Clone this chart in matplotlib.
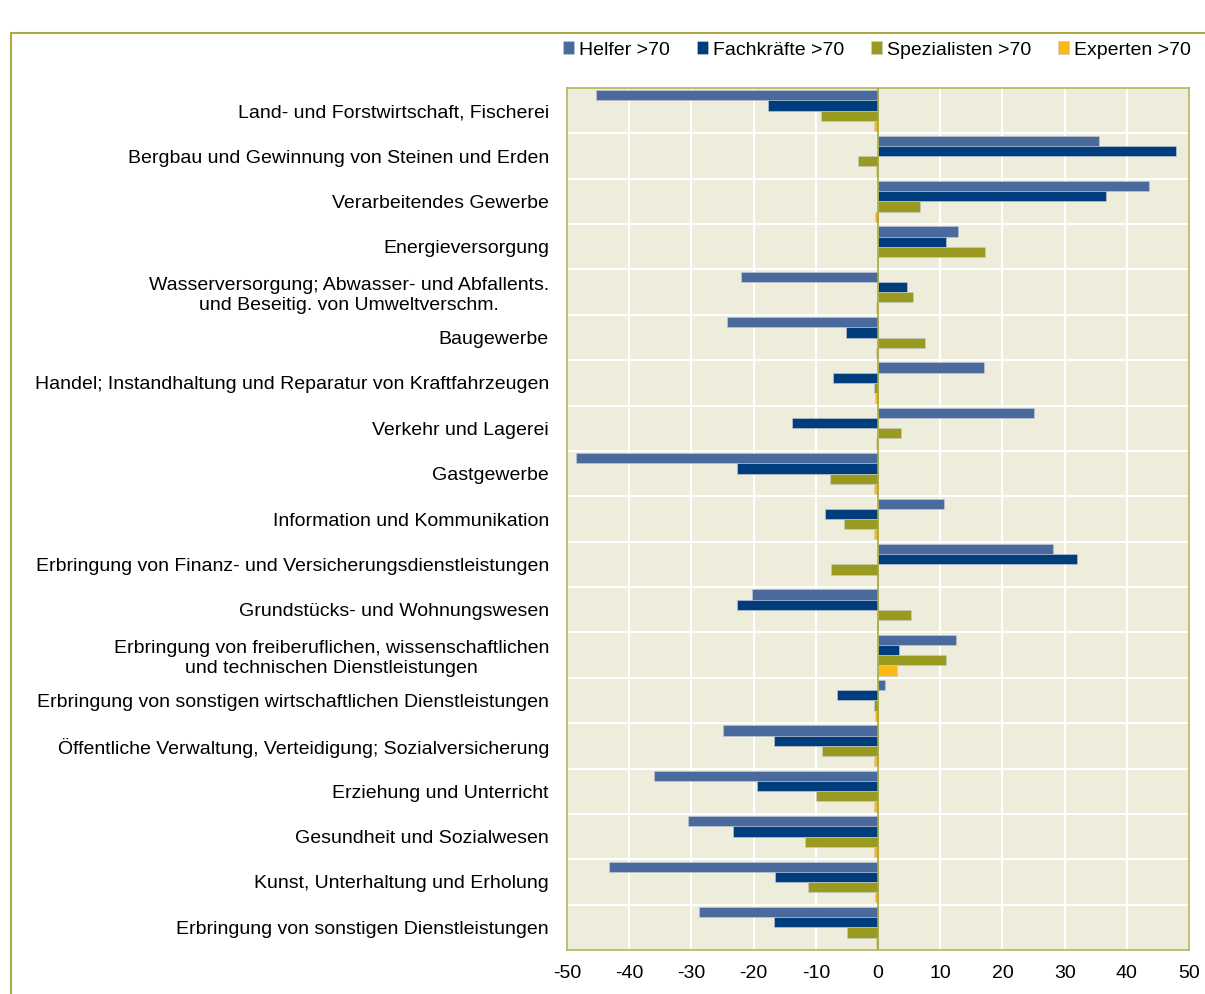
import matplotlib.pyplot as plt
import matplotlib.patches as mpatches
import numpy as np

plt.rcParams['font.family'] = ['Liberation Sans', 'DejaVu Sans']
plt.rcParams['axes.unicode_minus'] = False

# Data
branchen = [
    'Land- und Forstwirtschaft, Fischerei',
    'Bergbau und Gewinnung von Steinen und Erden',
    'Verarbeitendes Gewerbe',
    'Energieversorgung',
    'Wasserversorgung; Abwasser- und Abfallents.\nund Beseitig. von Umweltverschm.',
    'Baugewerbe',
    'Handel; Instandhaltung und Reparatur von Kraftfahrzeugen',
    'Verkehr und Lagerei',
    'Gastgewerbe',
    'Information und Kommunikation',
    'Erbringung von Finanz- und Versicherungsdienstleistungen',
    'Grundstücks- und Wohnungswesen',
    'Erbringung von freiberuflichen, wissenschaftlichen\nund technischen Dienstleistungen',
    'Erbringung von sonstigen wirtschaftlichen Dienstleistungen',
    'Öffentliche Verwaltung, Verteidigung; Sozialversicherung',
    'Erziehung und Unterricht',
    'Gesundheit und Sozialwesen',
    'Kunst, Unterhaltung und Erholung',
    'Erbringung von sonstigen Dienstleistungen',
]

helfer = [-45.4, 35.5, 43.6, 12.8, -22.0, -24.2, 17.0, 25.0, -48.5, 10.6,
          28.1, -20.3, 12.6, 1.1, -24.9, -36.0, -30.6, -43.2, -28.7]
fachkraefte = [-17.7, 47.9, 36.6, 10.9, 4.6, -5.2, -7.2, -13.8, -22.7, -8.5,
               32.0, -22.6, 3.3, -6.6, -16.8, -19.5, -23.3, -16.6, -16.8]
spezialisten = [-9.1, -3.2, 6.7, 17.2, 5.7, 7.5, -0.7, 3.7, -7.7, -5.4,
                -7.5, 5.3, 10.9, -0.7, -9.0, -10.0, -11.7, -11.3, -5.0]
experten = [-0.6, -0.4, -0.5, 0.0, -0.4, -0.4, -0.5, -0.4, -0.6, -0.6,
            -0.2, -0.2, 3.0, -0.5, -0.6, -0.6, -0.6, -0.5, -0.4]

serien = ['Helfer >70', 'Fachkräfte >70', 'Spezialisten >70', 'Experten >70']
farben = ['#4A6A9E', '#003D7C', '#999A1F', '#FDB813']
werte = [helfer, fachkraefte, spezialisten, experten]

fig = plt.figure(figsize=(12.05, 9.94), dpi=100)
ax = fig.add_axes([567 / 1205, 44 / 994, 622 / 1205, 862 / 994])

y = np.arange(len(branchen))
h = 0.225
for i, (name, farbe, w) in enumerate(zip(serien, farben, werte)):
    ax.barh(y - 0.3375 + i * h, w, height=h, color=farbe, label=name,
            edgecolor='#C8CCD8', linewidth=0.4, zorder=3)

ax.set_facecolor('#EEEDDC')
ax.set_xlim(-50, 50)
ax.set_ylim(len(branchen) - 0.5, -0.5)
ax.set_xticks(range(-50, 51, 10))
ax.set_yticks(y)
ax.set_yticklabels(branchen, fontsize=14, multialignment='center')
ax.tick_params(axis='both', length=0, labelsize=14)
ax.tick_params(axis='y', pad=13)
ax.tick_params(axis='x', pad=11)

# grid: white vertical lines and lines between the categories
for xv in range(-40, 50, 10):
    ax.axvline(xv, color='white', linewidth=1.5, zorder=1)
for yv in y[:-1] + 0.5:
    ax.axhline(yv, color='white', linewidth=1.5, zorder=1)
ax.axvline(0, color='#A5A83A', linewidth=1.2, zorder=4)

for s in ax.spines.values():
    s.set_color('#B4B65A')
    s.set_linewidth(1.2)

# outer frame of the chart
rahmen = mpatches.Rectangle((11 / 1205, -0.05), 1.1, 0.05 + (994 - 33) / 994,
                            transform=fig.transFigure, fill=False,
                            edgecolor='#A9AA45', linewidth=1.5)
fig.patches.append(rahmen)

# title lies mostly above the visible area, as in the original
fig.text(715 / 1205, 1 + 6 / 994, '(in Prozentpunkten)', ha='center', va='baseline',
         fontsize=17, fontweight='bold')

fig.legend(loc='center', bbox_to_anchor=(877 / 1205, 1 - 50 / 994), ncol=4,
           frameon=False, fontsize=14, handlelength=0.55, handleheight=0.6,
           handletextpad=0.25, columnspacing=1.4, borderaxespad=0)

fig.savefig('out.png', dpi=100)
